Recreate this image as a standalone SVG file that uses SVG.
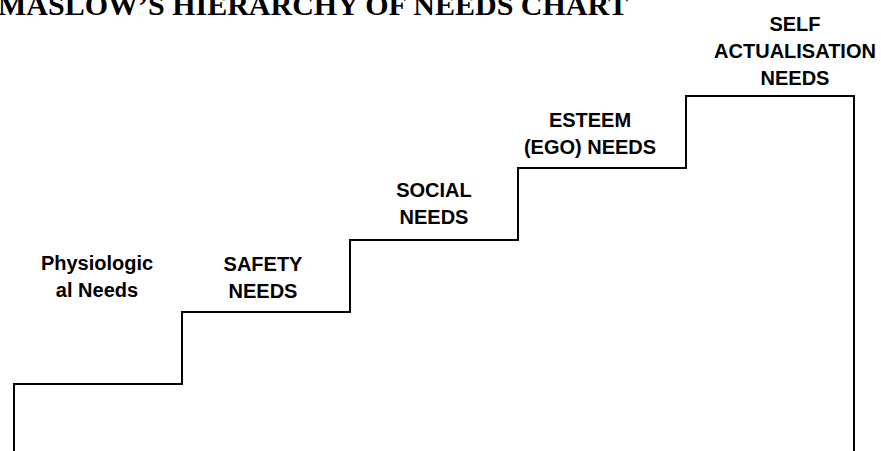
<svg xmlns="http://www.w3.org/2000/svg" width="881" height="451" viewBox="0 0 881 451">
<style>
.lbl{font-family:"Liberation Sans",Arial,sans-serif;font-weight:bold;font-size:20px;fill:#000;text-anchor:middle}
.title{font-family:"Liberation Serif","Times New Roman",serif;font-weight:bold;font-size:30px;fill:#000}
.stair{fill:none;stroke:#000;stroke-width:2}
</style>
<rect width="881" height="451" fill="#fff"/>
<text class="title" x="-2" y="15">MASLOW’S HIERARCHY OF NEEDS CHART</text>
<g id="connectors">
<path class="stair" d="M14,451 V384 H182 V312 H350 V240 H518 V168 H686 V96 H854 V451"/>
</g>
<g id="physiological"><text class="lbl" x="97" y="270">Physiologic</text><text class="lbl" x="97" y="297">al Needs</text></g>
<g id="safety"><text class="lbl" x="263" y="271">SAFETY</text><text class="lbl" x="263" y="298">NEEDS</text></g>
<g id="social"><text class="lbl" x="434" y="197">SOCIAL</text><text class="lbl" x="434" y="224">NEEDS</text></g>
<g id="esteem"><text class="lbl" x="590" y="127">ESTEEM</text><text class="lbl" x="590" y="154">(EGO) NEEDS</text></g>
<g id="self"><text class="lbl" x="795" y="31">SELF</text><text class="lbl" x="795" y="58">ACTUALISATION</text><text class="lbl" x="795" y="85">NEEDS</text></g>
</svg>
